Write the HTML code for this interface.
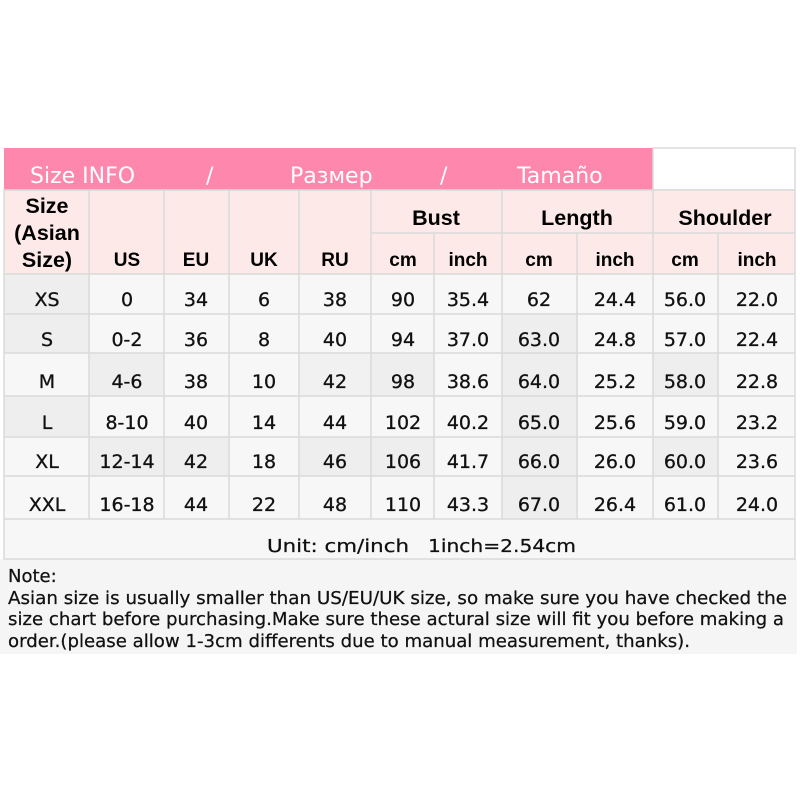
<!DOCTYPE html>
<html><head><meta charset="utf-8">
<style>
html,body{margin:0;padding:0;background:#fff;}
svg{display:block;}
.d{font-family:"DejaVu Sans","Liberation Sans",sans-serif;font-size:19px;fill:#111;stroke:#111;stroke-width:0.3px;text-anchor:middle;}
.h{font-family:"Liberation Sans",Arial,sans-serif;font-weight:bold;fill:#000;text-anchor:middle;}
.p{font-family:"DejaVu Sans","Liberation Sans",sans-serif;font-size:22px;fill:#fff;}
.n{font-family:"DejaVu Sans","Liberation Sans",sans-serif;font-size:18px;fill:#111;stroke:#111;stroke-width:0.25px;}
</style></head>
<body>
<svg width="800" height="800" viewBox="0 0 800 800" xmlns="http://www.w3.org/2000/svg">
<rect x="0" y="0" width="800" height="800" fill="#fff"/>
<!-- note bg -->
<rect x="0" y="559" width="797" height="95" fill="#f5f5f5"/>
<!-- pink bar -->
<rect x="4" y="148" width="649" height="42" fill="#fe87ae"/>
<rect x="653" y="148" width="142" height="42" fill="#fff" stroke="#dadada" stroke-width="1.5"/>
<text class="p" x="30" y="183">Size INFO</text>
<text class="p" x="206" y="183">/</text>
<text class="p" x="290" y="183">Размер</text>
<text class="p" x="440" y="183">/</text>
<text class="p" x="517" y="183">Tamaño</text>
<!-- header bg -->
<rect x="4" y="190" width="791" height="84" fill="#fde9e7"/>
<!-- data bg -->
<rect x="4" y="274" width="791" height="285" fill="#f7f7f7"/>
<!-- shaded cells -->
<g fill="#eeeeee">
<rect x="4" y="274" width="85" height="40"/>
<rect x="4" y="314" width="85" height="39"/>
<rect x="4" y="396" width="85" height="41"/>
<rect x="89" y="353" width="75" height="43"/>
<rect x="89" y="437" width="75" height="39"/>
<rect x="164" y="437" width="65" height="39"/>
<rect x="299" y="353" width="72" height="43" fill="#f1f1f1"/>
<rect x="299" y="437" width="72" height="39"/>
<rect x="371" y="353" width="63" height="43"/>
<rect x="371" y="437" width="63" height="39"/>
<rect x="502" y="314" width="75" height="205"/>
<rect x="653" y="353" width="65" height="43"/>
<rect x="653" y="437" width="65" height="39"/>
</g>
<!-- grid lines -->
<g stroke="#dadada" stroke-width="1.5" fill="none">
<rect x="4" y="190" width="791" height="369"/>
<line x1="4" y1="274" x2="795" y2="274"/>
<line x1="371" y1="233" x2="795" y2="233"/>
<line x1="4" y1="314" x2="795" y2="314"/>
<line x1="4" y1="353" x2="795" y2="353"/>
<line x1="4" y1="396" x2="795" y2="396"/>
<line x1="4" y1="437" x2="795" y2="437"/>
<line x1="4" y1="476" x2="795" y2="476"/>
<line x1="4" y1="519" x2="795" y2="519"/>
<line x1="89" y1="190" x2="89" y2="519"/>
<line x1="164" y1="190" x2="164" y2="519"/>
<line x1="229" y1="190" x2="229" y2="519"/>
<line x1="299" y1="190" x2="299" y2="519"/>
<line x1="371" y1="190" x2="371" y2="519"/>
<line x1="434" y1="233" x2="434" y2="519"/>
<line x1="502" y1="190" x2="502" y2="519"/>
<line x1="577" y1="233" x2="577" y2="519"/>
<line x1="653" y1="190" x2="653" y2="519"/>
<line x1="718" y1="233" x2="718" y2="519"/>
</g>
<!-- header text -->
<g class="h" font-size="21.5">
<text x="47" y="213">Size</text>
<text x="47" y="240">(Asian</text>
<text x="47" y="267">Size)</text>
<text x="436" y="225">Bust</text>
<text x="577" y="225">Length</text>
<text x="725" y="225">Shoulder</text>
</g>
<g class="h" font-size="19">
<text x="127" y="266">US</text>
<text x="196" y="266">EU</text>
<text x="264" y="266">UK</text>
<text x="335" y="266">RU</text>
<text x="403" y="266">cm</text>
<text x="468" y="266">inch</text>
<text x="539" y="266">cm</text>
<text x="615" y="266">inch</text>
<text x="685" y="266">cm</text>
<text x="757" y="266">inch</text>
</g>
<!-- data -->
<g class="d">
<text x="47" y="306">XS</text><text x="127" y="306">0</text><text x="196" y="306">34</text><text x="264" y="306">6</text><text x="335" y="306">38</text><text x="403" y="306">90</text><text x="468" y="306">35.4</text><text x="539" y="306">62</text><text x="615" y="306">24.4</text><text x="685" y="306">56.0</text><text x="757" y="306">22.0</text>
<text x="47" y="346">S</text><text x="127" y="346">0-2</text><text x="196" y="346">36</text><text x="264" y="346">8</text><text x="335" y="346">40</text><text x="403" y="346">94</text><text x="468" y="346">37.0</text><text x="539" y="346">63.0</text><text x="615" y="346">24.8</text><text x="685" y="346">57.0</text><text x="757" y="346">22.4</text>
<text x="47" y="388">M</text><text x="127" y="388">4-6</text><text x="196" y="388">38</text><text x="264" y="388">10</text><text x="335" y="388">42</text><text x="403" y="388">98</text><text x="468" y="388">38.6</text><text x="539" y="388">64.0</text><text x="615" y="388">25.2</text><text x="685" y="388">58.0</text><text x="757" y="388">22.8</text>
<text x="47" y="429">L</text><text x="127" y="429">8-10</text><text x="196" y="429">40</text><text x="264" y="429">14</text><text x="335" y="429">44</text><text x="403" y="429">102</text><text x="468" y="429">40.2</text><text x="539" y="429">65.0</text><text x="615" y="429">25.6</text><text x="685" y="429">59.0</text><text x="757" y="429">23.2</text>
<text x="47" y="468">XL</text><text x="127" y="468">12-14</text><text x="196" y="468">42</text><text x="264" y="468">18</text><text x="335" y="468">46</text><text x="403" y="468">106</text><text x="468" y="468">41.7</text><text x="539" y="468">66.0</text><text x="615" y="468">26.0</text><text x="685" y="468">60.0</text><text x="757" y="468">23.6</text>
<text x="47" y="511">XXL</text><text x="127" y="511">16-18</text><text x="196" y="511">44</text><text x="264" y="511">22</text><text x="335" y="511">48</text><text x="403" y="511">110</text><text x="468" y="511">43.3</text><text x="539" y="511">67.0</text><text x="615" y="511">26.4</text><text x="685" y="511">61.0</text><text x="757" y="511">24.0</text>
</g>
<text class="n" x="267" y="552" font-size="19" textLength="142" lengthAdjust="spacingAndGlyphs">Unit: cm/inch</text>
<text class="n" x="428" y="552" font-size="19" textLength="148" lengthAdjust="spacingAndGlyphs">1inch=2.54cm</text>
<!-- note -->
<text class="n" x="8" y="582">Note:</text>
<text class="n" x="8" y="604" textLength="779" lengthAdjust="spacingAndGlyphs">Asian size is usually smaller than US/EU/UK size, so make sure you have checked the</text>
<text class="n" x="8" y="625" textLength="776" lengthAdjust="spacingAndGlyphs">size chart before purchasing.Make sure these actural size will fit you before making a</text>
<text class="n" x="8" y="647" textLength="682" lengthAdjust="spacingAndGlyphs">order.(please allow 1-3cm differents due to manual measurement, thanks).</text>
</svg>
</body></html>
